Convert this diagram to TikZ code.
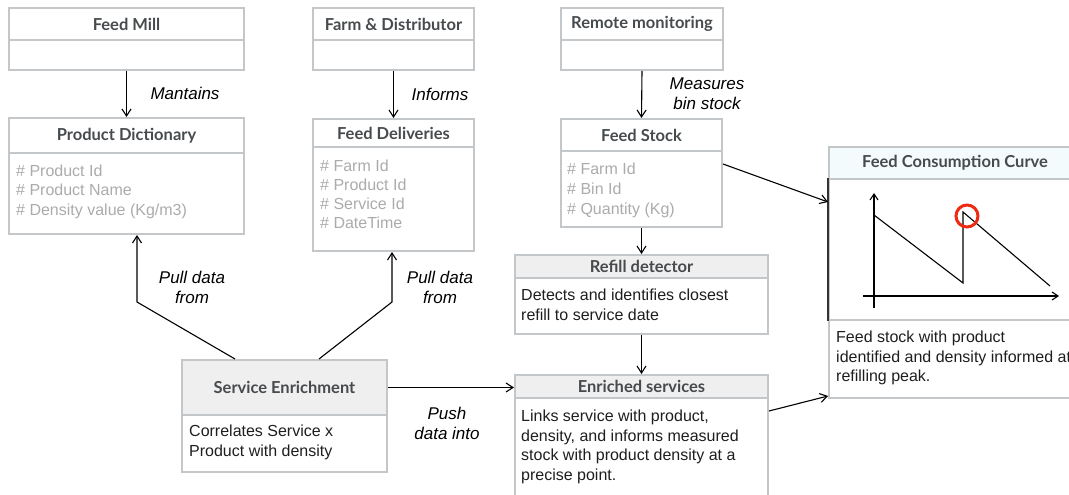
\documentclass[tikz,border=0pt]{standalone}
\usepackage{fontspec}
\setmainfont{Liberation Sans}
\newfontfamily\hdrfont{Lato}
\usetikzlibrary{arrows.meta,calc}
\definecolor{bord}{HTML}{C3C7C9}
\definecolor{hdrtxt}{HTML}{474B4E}
\definecolor{grayfill}{HTML}{EFEFEF}
\definecolor{cyanfill}{HTML}{F4FBFC}
\definecolor{attrtxt}{HTML}{ABABAB}
\definecolor{bodytxt}{HTML}{1E1E1E}
\definecolor{redmark}{HTML}{EE2A12}
\begin{document}
\begin{tikzpicture}[x=1pt,y=-1pt,
  cell/.style={draw=bord, line width=2pt, inner sep=0pt, anchor=north west, rectangle},
  hdr/.style={cell, font=\hdrfont\bfseries\fontsize{16.5}{19}\selectfont, text=hdrtxt},
  txt/.style={anchor=north west, inner sep=0pt, align=left, font=\fontsize{16}{19.5}\selectfont, text=bodytxt},
  attr/.style={txt, text=attrtxt},
  lbl/.style={align=center, inner sep=0pt, font=\itshape\fontsize{17}{20}\selectfont},
  arr/.style={draw=black, line width=1.1pt, -{Straight Barb[length=7pt,width=9pt]}},
  axis/.style={draw=black, line width=1.1pt, -{Straight Barb[length=6pt,width=8pt]}},
]
\useasboundingbox (0,0) rectangle (1069,495);
\clip (0,0) rectangle (1069,495);

% Feed Mill / Product Dictionary
\node[hdr, minimum width=235, minimum height=32] (fmH) at (8,7) {Feed Mill};
\node[cell, minimum width=235, minimum height=30] (fmB) at (8,39) {};
\node[hdr, minimum width=235, minimum height=35] (pdH) at (8,117) {Product Dictionary};
\node[cell, minimum width=235, minimum height=81] (pdB) at (8,152) {};
\node[attr] (pdT) at (16,164.5) {\# Product Id\\\# Product Name\\\# Density value (Kg/m3)};

% Farm & Distributor / Feed Deliveries
\node[hdr, minimum width=161, minimum height=32] (faH) at (312,7) {Farm \& Distributor};
\node[cell, minimum width=161, minimum height=30] (faB) at (312,39) {};
\node[hdr, minimum width=161, minimum height=28] (fdH) at (312,118) {Feed Deliveries};
\node[cell, minimum width=161, minimum height=104] (fdB) at (312,146) {};
\node[attr, font=\fontsize{16}{19}\selectfont] (fdT) at (320,159.5) {\# Farm Id\\\# Product Id\\\# Service Id\\\# DateTime};

% Remote monitoring / Feed Stock
\node[hdr, minimum width=162, minimum height=32] (rmH) at (560,7) {Remote monitoring};
\node[cell, minimum width=162, minimum height=30] (rmB) at (560,39) {};
\node[hdr, minimum width=161, minimum height=32] (fsH) at (560,118) {Feed Stock};
\node[cell, minimum width=161, minimum height=76] (fsB) at (560,150) {};
\node[attr, font=\fontsize{16}{20}\selectfont] (fsT) at (567,162.5) {\# Farm Id\\\# Bin Id\\\# Quantity (Kg)};

% Refill detector
\node[hdr, fill=grayfill, minimum width=253, minimum height=23] (rdH) at (514,254) {Refill detector};
\node[cell, minimum width=253, minimum height=56] (rdB) at (514,277) {};
\node[txt] (rdT) at (521,289) {Detects and identifies closest\\refill to service date};

% Enriched services
\node[hdr, fill=grayfill, minimum width=253, minimum height=23] (esH) at (514,374) {Enriched services};
\node[cell, minimum width=253, minimum height=120] (esB) at (514,397) {};
\node[txt] (esT) at (521,410) {Links service with product,\\density, and informs measured\\stock with product density at a\\precise point.};

% Service Enrichment
\node[hdr, fill=grayfill, minimum width=205, minimum height=55] (seH) at (181,359) {Service Enrichment};
\node[cell, minimum width=205, minimum height=57] (seB) at (181,414) {};
\node[txt] (seT) at (189,425) {Correlates Service x\\Product with density};

% Feed Consumption Curve
\node[hdr, fill=cyanfill, minimum width=252, minimum height=32] (fcH) at (828,146) {Feed Consumption Curve};
\node[cell, minimum width=252, minimum height=141] (fcC) at (828,178) {};
\node[cell, minimum width=252, minimum height=78] (fcB) at (828,319) {};
\node[txt] (fcT) at (836,331) {Feed stock with product\\identified and density informed at\\refilling peak.};
\draw[line width=1.4pt, black!80] (fcC.north west) -- (fcC.south west);

% chart
\draw[axis] (874,308) -- (874,193);
\draw[axis] (863,296) -- (1059,296);
\draw[line width=1.1pt] (874,215) -- (963,283) -- (963,212) -- (1050,286);
\draw[redmark, line width=3pt] (967,216) circle[radius=11];

% connectors
\draw[arr] (fmB.south) -- (pdH.north);
\draw[arr] (faB.south) -- (fdH.north);
\draw[arr] (rmB.south) -- (fsH.north);
\draw[arr] (fsB.south) -- (rdH.north);
\draw[arr] (rdB.south) -- (esH.north);
\draw[arr] (seH.east) -- (seH.east -| esH.west);
\coordinate (b1) at (137,302);
\coordinate (b2) at (392,302);
\draw[arr] ($(seH.north west)+(54,0)$) -- (b1) -- (b1 |- pdB.south);
\draw[arr] ($(seH.north west)+(138,0)$) -- (b2) -- (b2 |- fdB.south);
\draw[arr] ($(fsB.north east)+(0,14)$) -- ($(fcC.north west)+(0,24)$);
\draw[arr] ($(esB.north east)+(0,14)$) -- ($(fcB.south west)+(0,-3)$);

% labels
\node[lbl] (l1) at (185,93) {Mantains};
\node[lbl] (l2) at (440,94) {Informs};
\node[lbl] (l3) at (707,93.5) {Measures\\bin stock};
\node[lbl] (l4) at (192,287) {Pull data\\from};
\node[lbl] (l5) at (440,287) {Pull data\\from};
\node[lbl] (l6) at (447,423) {Push\\data into};
\end{tikzpicture}
\end{document}
